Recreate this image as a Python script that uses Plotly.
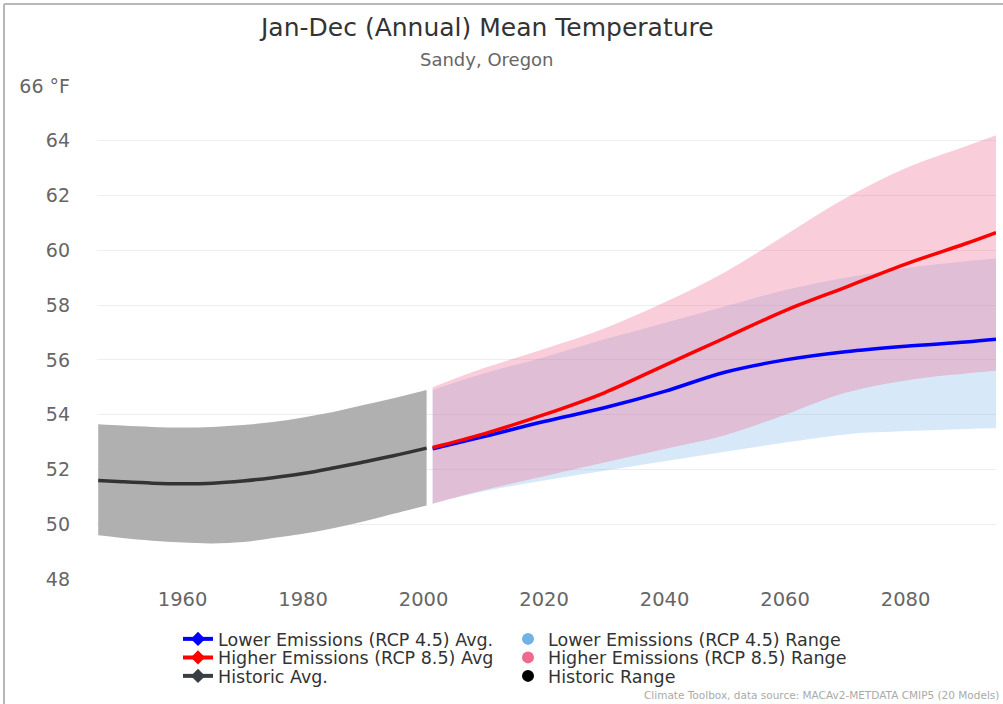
import plotly.graph_objects as go

# ---------------- data ----------------
hist_years = [1946, 1950, 1955, 1960, 1965, 1970, 1975, 1980, 1985, 1990, 1995, 2000.5]
hist_avg   = [51.60, 51.55, 51.50, 51.48, 51.50, 51.58, 51.70, 51.85, 52.05, 52.27, 52.50, 52.78]
hist_upper = [53.65, 53.60, 53.55, 53.53, 53.55, 53.62, 53.73, 53.90, 54.10, 54.35, 54.60, 54.90]
hist_lower = [49.60, 49.50, 49.40, 49.33, 49.30, 49.35, 49.50, 49.65, 49.85, 50.10, 50.38, 50.68]

proj_years = [2001.5, 2010, 2020, 2030, 2040, 2050, 2060, 2070, 2080, 2090, 2095]
rcp45_avg   = [52.75, 53.20, 53.75, 54.25, 54.85, 55.55, 56.00, 56.30, 56.50, 56.65, 56.75]
rcp45_upper = [54.90, 55.50, 56.10, 56.75, 57.35, 57.95, 58.55, 59.00, 59.35, 59.60, 59.70]
rcp45_lower = [50.75, 51.20, 51.60, 51.95, 52.30, 52.65, 52.98, 53.28, 53.40, 53.48, 53.50]
rcp85_avg   = [52.80, 53.30, 54.00, 54.80, 55.80, 56.80, 57.80, 58.65, 59.50, 60.25, 60.65]
rcp85_upper = [55.00, 55.70, 56.40, 57.15, 58.10, 59.20, 60.55, 61.90, 63.00, 63.80, 64.20]
rcp85_lower = [50.75, 51.25, 51.75, 52.25, 52.75, 53.25, 54.00, 54.80, 55.25, 55.50, 55.60]

y_ticks = [48, 50, 52, 54, 56, 58, 60, 62, 64, 66]
y_tick_labels = ["48", "50", "52", "54", "56", "58", "60", "62", "64", "66 °F"]
x_ticks = [1960, 1980, 2000, 2020, 2040, 2060, 2080]

title_text = "Jan-Dec (Annual) Mean Temperature"
subtitle_text = "Sandy, Oregon"
credit_text = "Climate Toolbox, data source: MACAv2-METDATA CMIP5 (20 Models)"

# ---------------- figure ----------------
FONT = "DejaVu Sans"
fig = go.Figure()

def band(xs, lo, hi, color):
    fig.add_trace(go.Scatter(x=xs, y=lo, mode="lines", line=dict(width=0, shape="spline"),
                             showlegend=False, hoverinfo="skip"))
    fig.add_trace(go.Scatter(x=xs, y=hi, mode="lines", line=dict(width=0, shape="spline"),
                             fill="tonexty", fillcolor=color, showlegend=False, hoverinfo="skip"))

band(proj_years, rcp45_lower, rcp45_upper, "rgba(124,181,236,0.30)")
band(proj_years, rcp85_lower, rcp85_upper, "rgba(240,100,140,0.32)")
band(hist_years, hist_lower, hist_upper, "rgb(176,176,176)")

fig.add_trace(go.Scatter(x=proj_years, y=rcp45_avg, mode="lines",
                         line=dict(color="#0000ff", width=3.5, shape="spline"), showlegend=False))
fig.add_trace(go.Scatter(x=proj_years, y=rcp85_avg, mode="lines",
                         line=dict(color="#ff0000", width=3.5, shape="spline"), showlegend=False))
fig.add_trace(go.Scatter(x=hist_years, y=hist_avg, mode="lines",
                         line=dict(color="#333333", width=3.5, shape="spline"), showlegend=False))

# legend entries (three rows, two columns -> one small legend per entry)
def leg_line(name, color, legend):
    fig.add_trace(go.Scatter(x=[None], y=[None], mode="lines+markers", name=name,
                             line=dict(color=color, width=4),
                             marker=dict(symbol="diamond", size=11, color=color),
                             legend=legend))

def leg_dot(name, color, legend):
    fig.add_trace(go.Scatter(x=[None], y=[None], mode="markers", name=name,
                             marker=dict(symbol="circle", size=12, color=color),
                             legend=legend))

leg_line("Lower Emissions (RCP 4.5) Avg.", "#0000ff", "legend")
leg_line("Higher Emissions (RCP 8.5) Avg", "#ff0000", "legend2")
leg_line("Historic Avg.", "#3a3f45", "legend3")
leg_dot("Lower Emissions (RCP 4.5) Range", "#6fb3e6", "legend4")
leg_dot("Higher Emissions (RCP 8.5) Range", "#ee6a90", "legend5")
leg_dot("Historic Range", "#000000", "legend6")

L, R, T, B = 97, 7, 86, 125
W, H = 1003, 704
pw, ph = W - L - R, H - T - B

def px2x(px):
    return (px - L) / pw

def py2y(py):
    return (H - B - py) / ph

leg_common = dict(xanchor="left", yanchor="middle", bgcolor="rgba(0,0,0,0)",
                  font=dict(family=FONT, size=17.5, color="#333333"))
col1, col2 = px2x(178), px2x(508)
rows = [py2y(639), py2y(657.5), py2y(676)]

fig.update_layout(
    width=W, height=H,
    margin=dict(l=L, r=R, t=T, b=B),
    paper_bgcolor="white", plot_bgcolor="white",
    font=dict(family=FONT),
    legend=dict(leg_common, x=col1, y=rows[0]),
    legend2=dict(leg_common, x=col1, y=rows[1]),
    legend3=dict(leg_common, x=col1, y=rows[2]),
    legend4=dict(leg_common, x=col2, y=rows[0]),
    legend5=dict(leg_common, x=col2, y=rows[1]),
    legend6=dict(leg_common, x=col2, y=rows[2]),
    xaxis=dict(range=[1945.8, 2095], tickvals=x_ticks, showgrid=False, zeroline=False,
               showline=False, ticks="", ticklabelstandoff=6,
               tickfont=dict(family=FONT, size=19.5, color="#666666")),
    yaxis=dict(range=[48, 66], tickvals=y_ticks, ticktext=y_tick_labels,
               showgrid=True, gridcolor="#eeeeee", gridwidth=1, zeroline=False,
               showline=False, ticks="", ticklabelstandoff=26,
               tickfont=dict(family=FONT, size=19, color="#666666")),
    annotations=[
        dict(text=title_text, xref="paper", yref="paper", x=px2x(486), y=py2y(28),
             xanchor="center", yanchor="middle", showarrow=False,
             font=dict(family=FONT, size=25, color="#333333")),
        dict(text=subtitle_text, xref="paper", yref="paper", x=px2x(486), y=py2y(60),
             xanchor="center", yanchor="middle", showarrow=False,
             font=dict(family=FONT, size=18, color="#666666")),
        dict(text=credit_text, xref="paper", yref="paper", x=px2x(1001), y=py2y(695),
             xanchor="right", yanchor="middle", showarrow=False,
             font=dict(family=FONT, size=10.5, color="#aaaaaa")),
    ],
    shapes=[
        dict(type="line", xref="paper", yref="paper", x0=px2x(4), x1=px2x(W), y0=py2y(4), y1=py2y(4),
             line=dict(color="#b8b8b8", width=2)),
        dict(type="line", xref="paper", yref="paper", x0=px2x(4), x1=px2x(4), y0=py2y(4), y1=py2y(H),
             line=dict(color="#b8b8b8", width=2)),
    ],
)

fig.write_html("out.html", config={"displayModeBar": False},
               post_script="document.body.style.margin='0px';")
